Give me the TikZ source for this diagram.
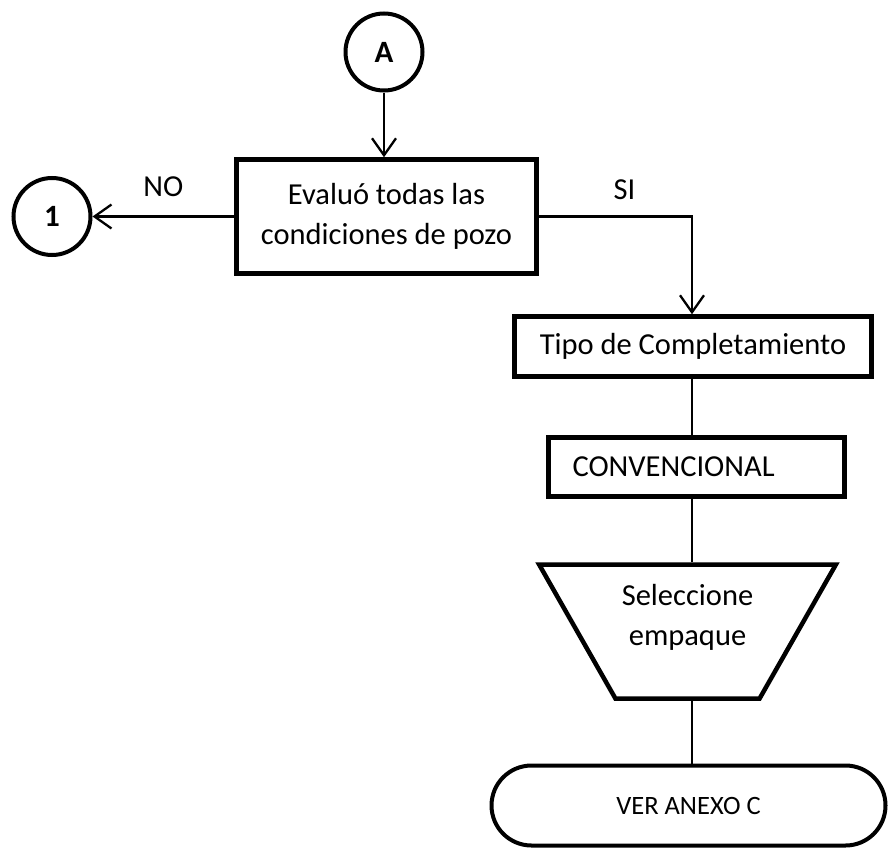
\documentclass[tikz,border=0pt]{standalone}
\usepackage{fontspec}
\setmainfont{Carlito}
\usetikzlibrary{shapes.geometric, arrows.meta}
\usetikzlibrary{positioning}

\begin{document}
\begin{tikzpicture}[
        x=1pt, y=-1pt,
        font=\fontsize{30.5}{40}\selectfont,
        conector/.style={circle, minimum size=77pt, inner sep=0pt, draw=black, line width=4pt, font=\fontsize{31}{33}\selectfont\bfseries},
        process/.style={rectangle, inner sep=0pt, draw=black, line width=4.5pt},
        io/.style={trapezium, trapezium stretches=true, shape border rotate=180, inner sep=2pt, draw=black, line width=4.5pt},
        terminal/.style={rectangle, rounded corners=40pt, inner sep=0pt, draw=black, line width=4pt},
        arrow/.style={line width=2.3pt, -{Straight Barb[length=17pt, width=24pt]}},
        line/.style={line width=2.2pt}
    ]
        \useasboundingbox (0,0) rectangle (888,851);

        % ===== nodos =====
        \node (A) [conector] at (384,52) {A};
        \node (eval) [process, minimum width=300pt, minimum height=114pt, align=center] at (386.5,216.5) {Evaluó todas las\\condiciones de pozo};
        \node (uno) [conector] at (52,216.5) {1};
        \node (tipo) [process, minimum width=357pt, minimum height=60pt] at (693,346.5) {Tipo de Completamiento};
        \node (conv) [process, minimum height=59pt, text width=248pt, inner xsep=24pt, align=left] at (696.5,467) {CONVENCIONAL};
        \node (sel) [io, minimum width=298pt, minimum height=134pt, trapezium angle=66] at (687.5,631.5) {\phantom{X}};
        \node (seltxt) [align=center] at ([yshift=14pt]sel.center) {Seleccione\\empaque};
        \node (fin) [terminal, minimum width=394pt, minimum height=80pt, font=\fontsize{26.5}{30}\selectfont] at (688.5,805.5) {VER ANEXO C};

        \coordinate (eje) at (692,0);

        % ===== conexiones =====
        \draw [arrow] (A) -- (A |- eval.north);
        \draw [arrow] (eval.west) -- node[above=15pt] {NO} (uno);
        \draw [arrow] (eval.east) -| node[above=12pt, pos=0.28] {SI} (eje |- tipo.north);
        \draw [line] (eje |- tipo.south) -- (eje |- conv.north);
        \draw [line] (eje |- conv.south) -- (eje |- sel.north);
        \draw [line] (eje |- sel.south) -- (eje |- fin.north);

    \end{tikzpicture}
\end{document}
